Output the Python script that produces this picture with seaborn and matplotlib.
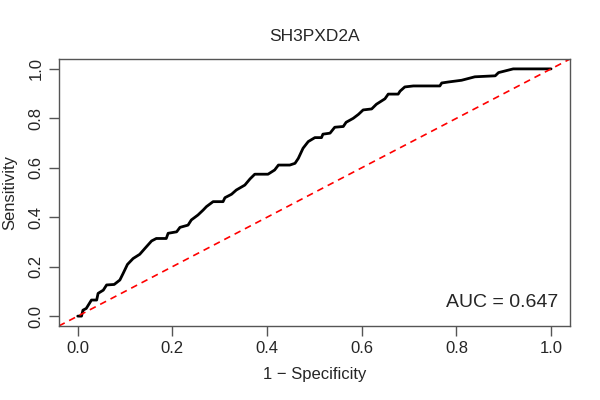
import numpy as np
import pandas as pd
import matplotlib
matplotlib.use("Agg")
import matplotlib.pyplot as plt
import seaborn as sns

# ROC curve vertices (1 - specificity, sensitivity)
fpr = [0.0, 0.008, 0.011, 0.018, 0.029, 0.040, 0.043, 0.054, 0.061, 0.077,
       0.089, 0.096, 0.105, 0.117, 0.131, 0.142, 0.156, 0.166, 0.187, 0.191,
       0.209, 0.216, 0.233, 0.240, 0.254, 0.265, 0.272, 0.286, 0.307, 0.311,
       0.325, 0.335, 0.353, 0.364, 0.374, 0.402, 0.416, 0.424, 0.448, 0.459,
       0.466, 0.476, 0.487, 0.501, 0.515, 0.518, 0.533, 0.543, 0.561, 0.567,
       0.582, 0.593, 0.603, 0.621, 0.631, 0.649, 0.656, 0.677, 0.681, 0.691,
       0.709, 0.765, 0.769, 0.783, 0.811, 0.839, 0.882, 0.889, 0.920, 1.0]
tpr = [0.0, 0.0, 0.024, 0.031, 0.065, 0.065, 0.092, 0.105, 0.126, 0.128,
       0.146, 0.173, 0.209, 0.233, 0.250, 0.274, 0.304, 0.314, 0.314, 0.335,
       0.341, 0.359, 0.368, 0.389, 0.409, 0.429, 0.443, 0.463, 0.463, 0.479,
       0.493, 0.510, 0.530, 0.555, 0.574, 0.574, 0.591, 0.611, 0.611, 0.618,
       0.638, 0.679, 0.706, 0.722, 0.722, 0.736, 0.740, 0.764, 0.767, 0.784,
       0.800, 0.816, 0.834, 0.838, 0.857, 0.879, 0.898, 0.898, 0.910, 0.927,
       0.931, 0.931, 0.943, 0.947, 0.954, 0.968, 0.972, 0.985, 1.0, 1.0]
gene = "SH3PXD2A"
auc = 0.647
ticks = [0.0, 0.2, 0.4, 0.6, 0.8, 1.0]

df = pd.DataFrame({"fpr": fpr, "tpr": tpr})

sns.set_style("white")
plt.rcParams["font.family"] = ["Liberation Sans", "DejaVu Sans"]

fig = plt.figure(figsize=(6, 4), dpi=100)
ax = fig.add_axes([0.098, 0.185, 0.852, 0.6675])

sns.lineplot(data=df, x="fpr", y="tpr", sort=False, color="black",
             linewidth=2, ax=ax)
ax.axline((0, 0), (1, 1), color="red", linestyle=(0, (4, 3)), linewidth=1.2)

ax.set_xlim(-0.04, 1.04)
ax.set_ylim(-0.04, 1.04)
ax.set_xticks(ticks)
ax.set_yticks(ticks)
ax.set_xticklabels([f"{t:.1f}" for t in ticks])
ax.set_yticklabels([f"{t:.1f}" for t in ticks], rotation=90, va="center")
ax.tick_params(axis="both", direction="out", length=7, width=1,
               color="#555555", labelsize=12, pad=4, bottom=True, left=True)
for s in ax.spines.values():
    s.set_color("#555555")
    s.set_linewidth(1)

ax.set_xlabel("1 \u2212 Specificity", fontsize=12, labelpad=8)
ax.set_ylabel("Sensitivity", fontsize=12, labelpad=8)
ax.set_title(gene, fontsize=12.5, pad=13)
ax.text(1.015, 0.055, f"AUC = {auc:.3f}", ha="right", va="center", fontsize=14)

fig.savefig("out.png", dpi=100)
